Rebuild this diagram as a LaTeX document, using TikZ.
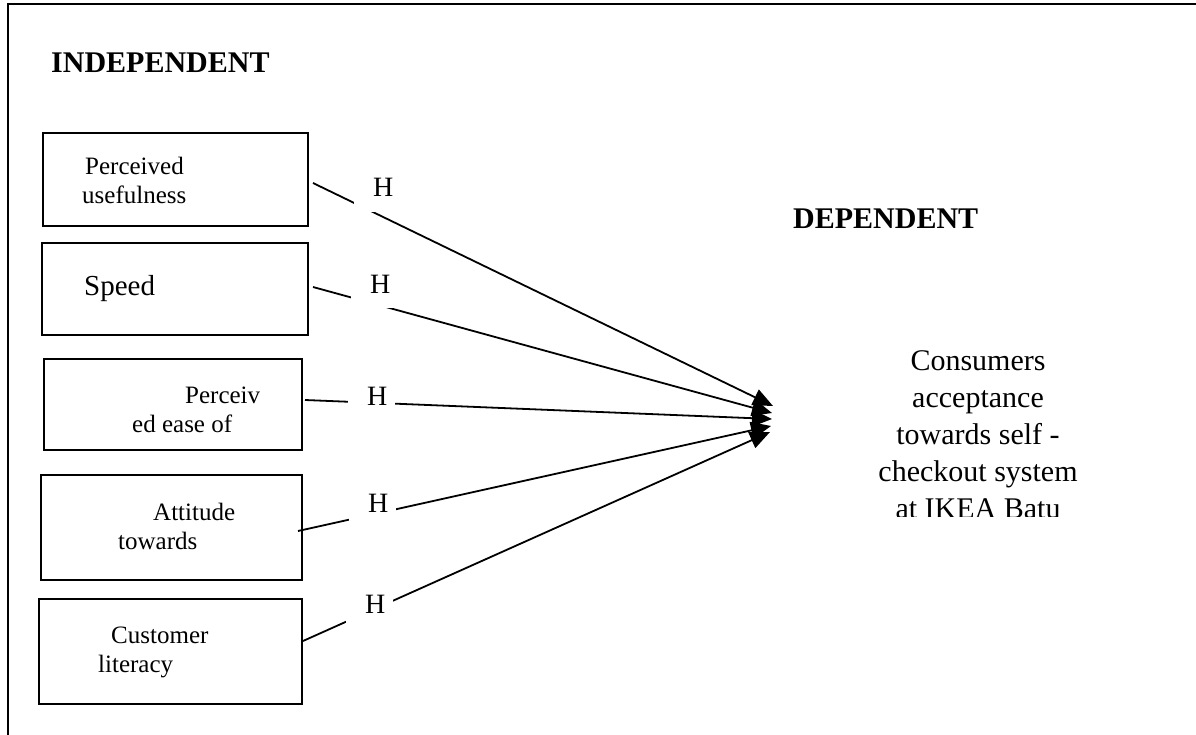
\documentclass[tikz,border=0pt]{standalone}
\usepackage{fontspec}
\setmainfont{Liberation Serif}
\usetikzlibrary{arrows.meta}
% hypothesis label: extra white space left of the H, a little to its right
\newcommand\hyplabel{\hspace*{19pt}H\hspace*{8pt}}
\begin{document}
\begin{tikzpicture}[x=1pt,y=-1pt,
  varbox/.style={draw, line width=2.5pt, inner sep=0pt},
  boxtext/.style={anchor=base west, inner sep=0pt, font=\fontsize{25}{29}\selectfont},
  heading/.style={anchor=base west, inner sep=0pt, font=\fontsize{30}{36}\selectfont\bfseries},
  conn/.style={line width=1.8pt, -{Triangle[length=20pt,width=17pt]}},
  hlab/.style={anchor=base west, fill=white, inner xsep=0pt, inner ysep=15pt,
    font=\fontsize{28}{32}\selectfont}]
\useasboundingbox (0,0) rectangle (1196,735);

% page frame (top and left edges)
\draw[line width=2pt] (8,735) -- (8,4) -- (1196,4);

% headings
\node[heading] (indep) at (51,73) {INDEPENDENT};
\node[heading] (dep) at (793,229) {DEPENDENT};

% independent variable boxes
\node[varbox, minimum width=265pt, minimum height=93pt] (b1) at (175.5,179.5) {};
\node[varbox, minimum width=266pt, minimum height=92pt] (b2) at (175,289) {};
\node[varbox, minimum width=258pt, minimum height=91pt] (b3) at (173,404.5) {};
\node[varbox, minimum width=261pt, minimum height=105pt] (b4) at (171.5,527.5) {};
\node[varbox, minimum width=263pt, minimum height=105pt] (b5) at (170.5,651.5) {};

% box texts
\node[boxtext] (t1) at (82,175) {\begin{tabular}[t]{@{}l@{}}\hspace*{3pt}Perceived\\usefulness\end{tabular}};
\node[boxtext, font=\fontsize{29}{33}\selectfont] (t2) at (84,295) {Speed};
\node[boxtext] (t3) at (132,403) {\begin{tabular}[t]{@{}l@{}}\hspace*{53pt}Perceiv\\ed ease of\end{tabular}};
\node[boxtext] (t4) at (118,520) {\begin{tabular}[t]{@{}l@{}}\hspace*{35pt}Attitude\\towards\end{tabular}};
\node[boxtext] (t5) at (98,643) {\begin{tabular}[t]{@{}l@{}}\hspace*{13pt}Customer\\literacy\end{tabular}};

% connector ends
\coordinate (s1) at (313,183);
\coordinate (s2) at (313,287);
\coordinate (s3) at (305,400);
\coordinate (s4) at (298,531);
\coordinate (s5) at (303,641);
\coordinate (e1) at (773,406);
\coordinate (e2) at (772,413);
\coordinate (e3) at (772,419);
\coordinate (e4) at (771,426);
\coordinate (e5) at (770,432);

% hypothesis arrows
\draw[conn] (s1) -- (e1);
\draw[conn] (s2) -- (e2);
\draw[conn] (s3) -- (e3);
\draw[conn] (s4) -- (e4);
\draw[conn] (s5) -- (e5);

% hypothesis labels (white boxes break the arrows)
\node[hlab] (h1) at (354,197) {\hyplabel};
\node[hlab] (h2) at (351,293) {\hyplabel};
\node[hlab] (h3) at (348,405) {\hyplabel};
\node[hlab] (h4) at (349,512) {\hyplabel};
\node[hlab] (h5) at (346,613) {\hyplabel};

% dependent variable, cut off at the bottom of its text frame
\begin{scope}
  \clip (850,300) rectangle (1110,516);
  \node[anchor=base, inner sep=0pt, font=\fontsize{30}{37}\selectfont] (dv) at (978,370)
    {\begin{tabular}[t]{@{}c@{}}Consumers\\acceptance\\towards self -\\checkout system\\at IKEA Batu\end{tabular}};
\end{scope}
\end{tikzpicture}
\end{document}
